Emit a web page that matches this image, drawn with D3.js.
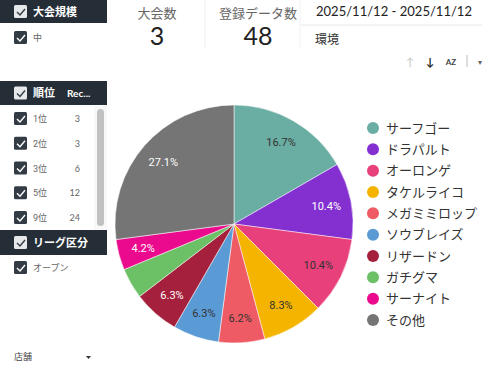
<!DOCTYPE html>
<html>
<head>
  <meta charset="utf-8">
  <title>環境 円グラフ</title>
  <script src="https://d3js.org/d3.v7.min.js"></script>
  <style>
    body { margin: 0; background: #fff; }
    svg { display: block; }
  </style>
</head>
<body>
<script>

var pokemon = ["サーフゴー", "ドラパルト", "オーロンゲ", "タケルライコ", "メガミミロップ",
               "ソウブレイズ", "リザードン", "ガチグマ", "サーナイト", "その他"];
var counts = [8, 5, 5, 4, 3, 3, 3, 2, 2, 13];
var sliceColors = ["#6aada2", "#8430d1", "#e8407a", "#f4b400", "#ef5b64",
                   "#5a9bd6", "#a5203d", "#6cc065", "#eb0a8d", "#757575"];
var lightText = [false, true, false, false, false, false, true, true, true, true];
var hiddenLabel = [false, false, false, false, false, false, false, true, false, false];

var rankLabels = ["1位", "2位", "3位", "5位", "9位"];
var rankRecords = [3, 3, 6, 12, 24];

var tournamentCount = 3;
var recordCount = 48;
var dateRange = "2025/11/12 - 2025/11/12";

var W = 482, H = 374;
var jp = "Roboto, 'Noto Sans CJK JP', sans-serif";
var kpiFont = "Lato, 'Noto Sans CJK JP', sans-serif";

var svg = d3.select("body").append("svg")
    .attr("width", W)
    .attr("height", H);

// ---- left filter panel ----
var left = svg.append("g");

function checkbox(g, x, y, light) {
  g.append("rect")
    .attr("x", x).attr("y", y).attr("width", 13).attr("height", 13).attr("rx", 1.5)
    .attr("fill", light ? "#e6e8ea" : "#333c44");
  g.append("path")
    .attr("d", "M" + (x + 3) + "," + (y + 7) + " l3,3 l5,-6")
    .attr("fill", "none")
    .attr("stroke", light ? "#333c44" : "#fff")
    .attr("stroke-width", 1.4);
}

function header(y, h, label, extra) {
  left.append("rect").attr("x", 0).attr("y", y).attr("width", 107).attr("height", h)
    .attr("fill", "#252e37");
  checkbox(left, 14, y + (h - 13) / 2, true);
  left.append("text").attr("x", 33).attr("y", y + h / 2 + 4)
    .attr("fill", "#fff").style("font-family", jp).style("font-size", "11px")
    .style("font-weight", "bold").text(label);
  if (extra) {
    left.append("text").attr("x", 67).attr("y", y + h / 2 + 4)
      .attr("fill", "#fff").style("font-family", kpiFont).style("font-size", "10px")
      .style("font-weight", "bold").text(extra);
  }
}

function row(y, label, value) {
  checkbox(left, 14, y - 7, false);
  left.append("text").attr("x", 33).attr("y", y + 3)
    .attr("fill", "#666").style("font-family", jp).style("font-size", "9px").text(label);
  if (value !== undefined) {
    left.append("text").attr("x", 80).attr("y", y + 3).attr("text-anchor", "end")
      .attr("fill", "#666").style("font-family", kpiFont).style("font-size", "9px").text(value);
  }
}

header(0, 23, "大会規模");
row(38, "中");

header(81, 24, "順位", "Rec...");
var rankY = d3.scalePoint().domain(rankLabels).range([119, 218]);
rankLabels.forEach(function (r, i) { row(rankY(r), r, rankRecords[i]); });

left.append("rect").attr("x", 94).attr("y", 106).attr("width", 13).attr("height", 124)
  .attr("fill", "#f8f8f8");
left.append("rect").attr("x", 97).attr("y", 109).attr("width", 7).attr("height", 117).attr("rx", 3.5)
  .attr("fill", "#c1c1c1");

header(230, 25, "リーグ区分");
row(268, "オープン");

left.append("text").attr("x", 14).attr("y", 360)
  .attr("fill", "#444").style("font-family", jp).style("font-size", "9px").text("店舗");
left.append("path").attr("d", "M86,356 l5,0 l-2.5,3 z").attr("fill", "#333");

// ---- KPI boxes ----
svg.append("line").attr("x1", 205).attr("x2", 205).attr("y1", 0).attr("y2", 48)
  .attr("stroke", "#eeeeee");
svg.append("line").attr("x1", 300).attr("x2", 300).attr("y1", 0).attr("y2", 48)
  .attr("stroke", "#f2f2f2");

function kpi(cx, label, value) {
  svg.append("text").attr("x", cx).attr("y", 18).attr("text-anchor", "middle")
    .attr("fill", "#666").style("font-family", jp).style("font-size", "13px").text(label);
  svg.append("text").attr("x", cx).attr("y", 45).attr("text-anchor", "middle")
    .attr("fill", "#222").style("font-family", kpiFont).style("font-size", "25px")
    .style("font-weight", "400").text(value);
}
kpi(157, "大会数", tournamentCount);
kpi(258, "登録データ数", recordCount);

svg.append("text").attr("x", 316).attr("y", 16)
  .attr("fill", "#222").style("font-family", kpiFont).style("font-size", "13px")
  .attr("textLength", 156).attr("lengthAdjust", "spacingAndGlyphs").text(dateRange);
svg.append("line").attr("x1", 301).attr("x2", W).attr("y1", 25).attr("y2", 25)
  .attr("stroke", "#e8e8e8");
svg.append("text").attr("x", 315).attr("y", 44)
  .attr("fill", "#333").style("font-family", jp).style("font-size", "12px").text("環境");

// sort toolbar icons
var tb = svg.append("g").style("font-family", kpiFont);
tb.append("text").attr("x", 410).attr("y", 66).attr("text-anchor", "middle")
  .attr("fill", "#c4c4c4").style("font-size", "11px").text("↑");
tb.append("text").attr("x", 430).attr("y", 66).attr("text-anchor", "middle")
  .attr("fill", "#222").style("font-size", "11px").style("font-weight", "bold").text("↓");
tb.append("text").attr("x", 451).attr("y", 65).attr("text-anchor", "middle")
  .attr("fill", "#444").style("font-size", "8px").style("font-weight", "bold").text("AZ");
tb.append("line").attr("x1", 467).attr("x2", 467).attr("y1", 55).attr("y2", 67)
  .attr("stroke", "#bbb");
tb.append("text").attr("x", 478).attr("y", 65).attr("fill", "#666")
  .style("font-size", "8px").text("▾");

// ---- pie ----
var cx = 234, cy = 224, radius = 119;
var data = pokemon.map(function (name, i) {
  return { name: name, value: counts[i], color: sliceColors[i], light: lightText[i], hide: hiddenLabel[i] };
});
var total = d3.sum(counts);

var pie = d3.pie().sort(null).value(function (d) { return d.value; });
var arc = d3.arc().innerRadius(0).outerRadius(radius);
var labelArc = d3.arc().innerRadius(radius * 0.79).outerRadius(radius * 0.79);

var pg = svg.append("g").attr("transform", "translate(" + cx + "," + cy + ")");
var arcs = pie(data);

pg.selectAll("path")
  .data(arcs)
  .enter().append("path")
  .attr("d", arc)
  .attr("fill", function (d) { return d.data.color; })
  .attr("stroke", "#fff")
  .attr("stroke-width", 0.5);

pg.selectAll("text")
  .data(arcs.filter(function (d) { return !d.data.hide; }))
  .enter().append("text")
  .attr("transform", function (d) { return "translate(" + labelArc.centroid(d) + ")"; })
  .attr("dy", "0.35em")
  .attr("text-anchor", "middle")
  .attr("fill", function (d) { return d.data.light ? "#fff" : "#333"; })
  .style("font-family", "Roboto, sans-serif")
  .style("font-size", "11px")
  .text(function (d) {
    var p = d.data.value / total * 100;
    var s = d3.format(".1f")(p);
    if (d.data.name === "メガミミロップ") s = "6.2"; // rounding as shown
    return s + "%";
  });

// ---- legend ----
var ly = d3.scalePoint().domain(pokemon).range([128, 320]);
var lg = svg.append("g").selectAll("g")
  .data(data)
  .enter().append("g")
  .attr("transform", function (d) { return "translate(373," + ly(d.name) + ")"; });

lg.append("circle").attr("r", 6).attr("fill", function (d) { return d.color; });
lg.append("text").attr("x", 13).attr("dy", "0.36em")
  .attr("fill", "#333")
  .style("font-family", jp)
  .style("font-size", "13px")
  .text(function (d) { return d.name; });

</script>
</body>
</html>
